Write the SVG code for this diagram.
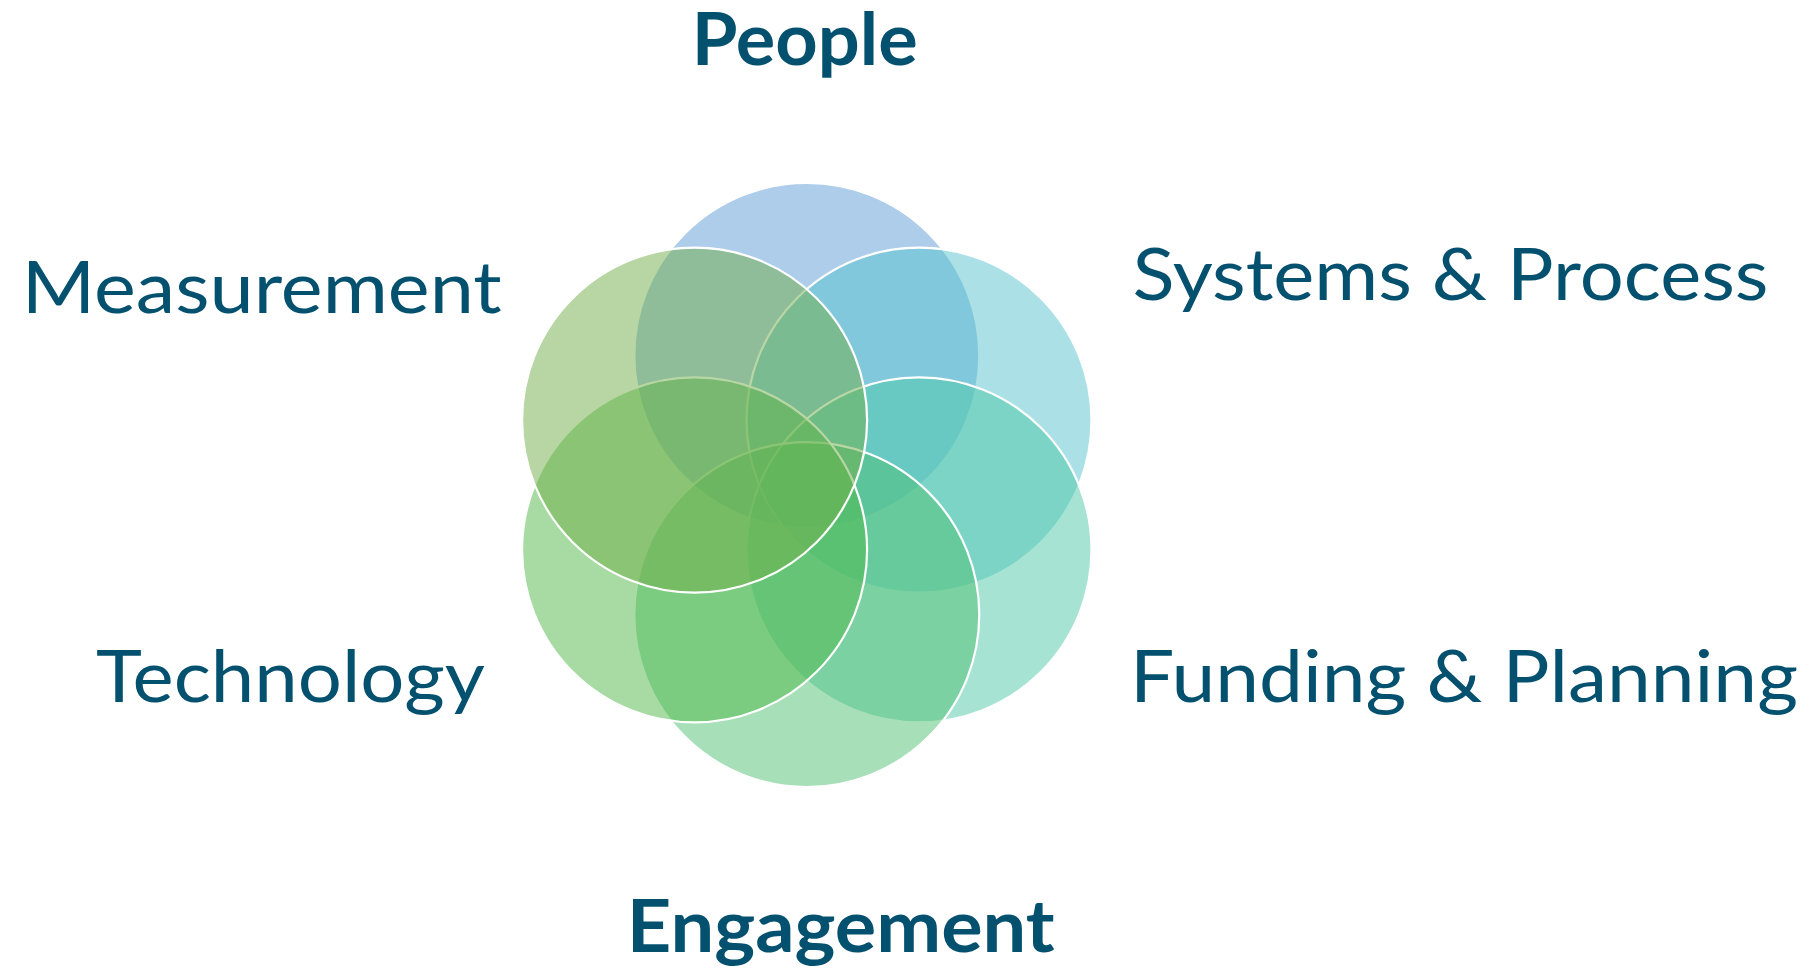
<svg xmlns="http://www.w3.org/2000/svg" width="1815" height="968" viewBox="0 0 1815 968">
<style>
.c{stroke:#FFFFFF;stroke-width:2.2;fill-opacity:0.5}
.t{fill:#04516F;font-family:Lato,"Liberation Sans",sans-serif;font-size:72px}
.b{font-weight:bold}
</style>
<rect width="1815" height="968" fill="#FFFFFF"/>
<g id="people"><circle class="c" cx="806.8" cy="355.4" r="172.5" fill="#5B9BD5"/></g>
<g id="systems"><circle class="c" cx="919" cy="420.2" r="172.5" fill="#57C3CD"/></g>
<g id="funding"><circle class="c" cx="919" cy="549.8" r="172.5" fill="#4DC7A7"/></g>
<g id="engagement"><circle class="c" cx="806.8" cy="614.6" r="172.5" fill="#4FBF71"/></g>
<g id="technology"><circle class="c" cx="694.6" cy="549.8" r="172.5" fill="#4FB747"/></g>
<g id="measurement"><circle class="c" cx="694.6" cy="420.2" r="172.5" fill="#71AD47"/></g>
<g id="labels">
<text class="t b" x="691.7" y="65" textLength="226" lengthAdjust="spacingAndGlyphs">People</text>
<text class="t" x="1132.5" y="300" textLength="636" lengthAdjust="spacingAndGlyphs">Systems &amp; Process</text>
<text class="t" x="1130" y="701.5" textLength="668" lengthAdjust="spacingAndGlyphs">Funding &amp; Planning</text>
<text class="t b" x="626.7" y="951.7" textLength="428" lengthAdjust="spacingAndGlyphs">Engagement</text>
<text class="t" x="96" y="701.7" textLength="389" lengthAdjust="spacingAndGlyphs">Technology</text>
<text class="t" x="21.7" y="312.7" textLength="480" lengthAdjust="spacingAndGlyphs">Measurement</text>
</g>
<g id="connectors"/>
</svg>
